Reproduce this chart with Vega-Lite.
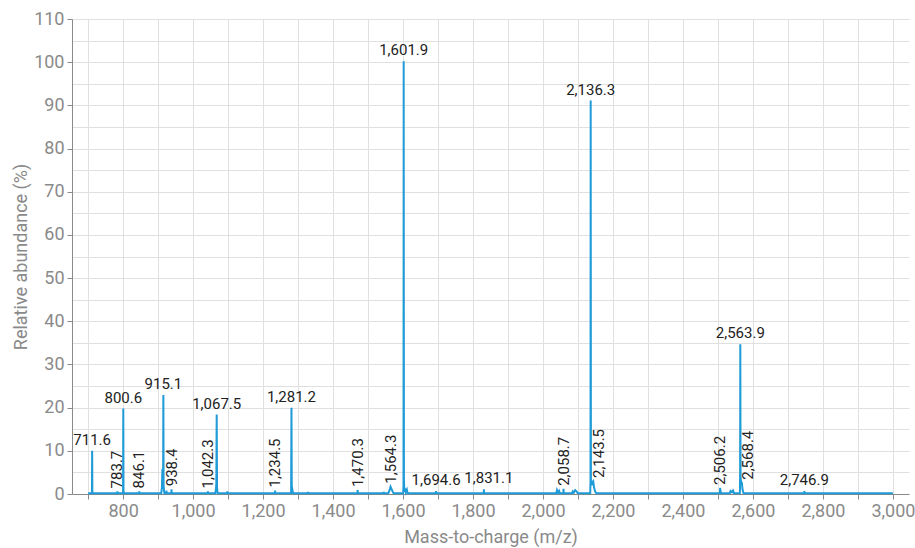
{
  "$schema": "https://vega.github.io/schema/vega-lite/v6.json",
  "width": 837,
  "height": 475,
  "autosize": {"type": "none"},
  "padding": {"left": 72, "top": 19, "right": 6, "bottom": 54},
  "background": "white",
  "config": {
    "font": "Roboto",
    "view": {"stroke": null},
    "axis": {
      "domainColor": "#8a8a8a",
      "tickColor": "#8a8a8a",
      "gridColor": "#e0e0e0",
      "labelColor": "#8a8a8a",
      "titleColor": "#8a8a8a",
      "labelFontSize": 18,
      "titleFontSize": 18,
      "titleFontWeight": "normal",
      "tickSize": 5,
      "labelPadding": 3,
      "labelOverlap": false,
      "labelFlush": false
    }
  },
  "datasets": {
    "spectrum": [
      {"mz": 700, "intensity": 0.2},
      {"mz": 711.0, "intensity": 0.2},
      {"mz": 711.6, "intensity": 10.0},
      {"mz": 712.2, "intensity": 0.2},
      {"mz": 783.2, "intensity": 0.2},
      {"mz": 783.7, "intensity": 0.6},
      {"mz": 784.2, "intensity": 0.2},
      {"mz": 799.6, "intensity": 0.2},
      {"mz": 800.0, "intensity": 1.0},
      {"mz": 800.6, "intensity": 19.8},
      {"mz": 801.2, "intensity": 0.8},
      {"mz": 802.0, "intensity": 0.2},
      {"mz": 845.6, "intensity": 0.2},
      {"mz": 846.1, "intensity": 0.6},
      {"mz": 846.6, "intensity": 0.2},
      {"mz": 909.0, "intensity": 0.2},
      {"mz": 911.0, "intensity": 1.5},
      {"mz": 912.4, "intensity": 5.8},
      {"mz": 913.5, "intensity": 3.0},
      {"mz": 914.5, "intensity": 4.0},
      {"mz": 915.1, "intensity": 22.9},
      {"mz": 915.8, "intensity": 2.0},
      {"mz": 917.0, "intensity": 0.8},
      {"mz": 918.0, "intensity": 0.2},
      {"mz": 923.5, "intensity": 0.2},
      {"mz": 924.0, "intensity": 0.8},
      {"mz": 924.5, "intensity": 0.2},
      {"mz": 937.9, "intensity": 0.2},
      {"mz": 938.4, "intensity": 1.1},
      {"mz": 938.9, "intensity": 0.2},
      {"mz": 1041.8, "intensity": 0.2},
      {"mz": 1042.3, "intensity": 0.6},
      {"mz": 1042.8, "intensity": 0.2},
      {"mz": 1063.0, "intensity": 0.2},
      {"mz": 1065.0, "intensity": 0.8},
      {"mz": 1066.5, "intensity": 2.5},
      {"mz": 1067.5, "intensity": 18.4},
      {"mz": 1068.5, "intensity": 1.5},
      {"mz": 1070.0, "intensity": 0.2},
      {"mz": 1097.5, "intensity": 0.2},
      {"mz": 1098.0, "intensity": 0.6},
      {"mz": 1098.5, "intensity": 0.2},
      {"mz": 1234.0, "intensity": 0.2},
      {"mz": 1234.5, "intensity": 0.8},
      {"mz": 1235.0, "intensity": 0.2},
      {"mz": 1280.2, "intensity": 0.2},
      {"mz": 1281.2, "intensity": 20.0},
      {"mz": 1282.0, "intensity": 2.0},
      {"mz": 1284.0, "intensity": 0.8},
      {"mz": 1286.0, "intensity": 0.2},
      {"mz": 1327.5, "intensity": 0.2},
      {"mz": 1328.0, "intensity": 0.5},
      {"mz": 1328.5, "intensity": 0.2},
      {"mz": 1469.8, "intensity": 0.2},
      {"mz": 1470.3, "intensity": 0.9},
      {"mz": 1470.8, "intensity": 0.2},
      {"mz": 1544.5, "intensity": 0.2},
      {"mz": 1545.0, "intensity": 0.5},
      {"mz": 1545.5, "intensity": 0.2},
      {"mz": 1558.0, "intensity": 0.2},
      {"mz": 1562.0, "intensity": 1.0},
      {"mz": 1564.3, "intensity": 1.7},
      {"mz": 1567.0, "intensity": 1.2},
      {"mz": 1570.0, "intensity": 0.6},
      {"mz": 1573.0, "intensity": 0.2},
      {"mz": 1600.5, "intensity": 0.2},
      {"mz": 1601.4, "intensity": 2.0},
      {"mz": 1601.9, "intensity": 100.2},
      {"mz": 1602.6, "intensity": 3.0},
      {"mz": 1604.0, "intensity": 0.5},
      {"mz": 1606.0, "intensity": 1.3},
      {"mz": 1608.0, "intensity": 0.4},
      {"mz": 1611.0, "intensity": 1.0},
      {"mz": 1613.0, "intensity": 0.2},
      {"mz": 1694.1, "intensity": 0.2},
      {"mz": 1694.6, "intensity": 0.7},
      {"mz": 1695.1, "intensity": 0.2},
      {"mz": 1830.6, "intensity": 0.2},
      {"mz": 1831.1, "intensity": 1.1},
      {"mz": 1831.6, "intensity": 0.2},
      {"mz": 2038.0, "intensity": 0.2},
      {"mz": 2040.0, "intensity": 0.9},
      {"mz": 2043.0, "intensity": 0.3},
      {"mz": 2046.0, "intensity": 0.7},
      {"mz": 2048.0, "intensity": 0.2},
      {"mz": 2058.2, "intensity": 0.2},
      {"mz": 2058.7, "intensity": 1.2},
      {"mz": 2059.2, "intensity": 0.2},
      {"mz": 2083.0, "intensity": 0.2},
      {"mz": 2085.0, "intensity": 0.6},
      {"mz": 2088.0, "intensity": 0.3},
      {"mz": 2092.0, "intensity": 0.9},
      {"mz": 2097.0, "intensity": 0.5},
      {"mz": 2099.0, "intensity": 0.2},
      {"mz": 2135.0, "intensity": 0.2},
      {"mz": 2135.8, "intensity": 3.0},
      {"mz": 2136.3, "intensity": 91.1},
      {"mz": 2137.0, "intensity": 3.0},
      {"mz": 2139.0, "intensity": 2.0},
      {"mz": 2141.0, "intensity": 2.8},
      {"mz": 2143.5, "intensity": 3.0},
      {"mz": 2146.0, "intensity": 1.5},
      {"mz": 2149.0, "intensity": 0.6},
      {"mz": 2152.0, "intensity": 0.2},
      {"mz": 2505.7, "intensity": 0.2},
      {"mz": 2506.2, "intensity": 1.4},
      {"mz": 2507.5, "intensity": 0.6},
      {"mz": 2509.0, "intensity": 0.2},
      {"mz": 2534.0, "intensity": 0.2},
      {"mz": 2536.0, "intensity": 0.7},
      {"mz": 2540.0, "intensity": 0.4},
      {"mz": 2543.0, "intensity": 0.8},
      {"mz": 2546.0, "intensity": 0.2},
      {"mz": 2562.8, "intensity": 0.2},
      {"mz": 2563.4, "intensity": 5.0},
      {"mz": 2563.9, "intensity": 34.7},
      {"mz": 2564.6, "intensity": 4.0},
      {"mz": 2566.0, "intensity": 2.8},
      {"mz": 2568.4, "intensity": 2.6},
      {"mz": 2570.0, "intensity": 1.2},
      {"mz": 2573.0, "intensity": 0.2},
      {"mz": 2746.4, "intensity": 0.2},
      {"mz": 2746.9, "intensity": 0.7},
      {"mz": 2747.4, "intensity": 0.2},
      {"mz": 3000, "intensity": 0.2}
    ],
    "peaks": [
      {"mz": 711.6, "intensity": 10.0, "orient": "h"},
      {"mz": 783.7, "intensity": 0.6, "orient": "v"},
      {"mz": 800.6, "intensity": 19.8, "orient": "h"},
      {"mz": 846.1, "intensity": 0.6, "orient": "v"},
      {"mz": 915.1, "intensity": 22.9, "orient": "h"},
      {"mz": 938.4, "intensity": 1.1, "orient": "v"},
      {"mz": 1042.3, "intensity": 0.6, "orient": "v"},
      {"mz": 1067.5, "intensity": 18.4, "orient": "h"},
      {"mz": 1234.5, "intensity": 0.8, "orient": "v"},
      {"mz": 1281.2, "intensity": 20.0, "orient": "h"},
      {"mz": 1470.3, "intensity": 0.9, "orient": "v"},
      {"mz": 1564.3, "intensity": 1.7, "orient": "v"},
      {"mz": 1601.9, "intensity": 100.2, "orient": "h"},
      {"mz": 1694.6, "intensity": 0.7, "orient": "h"},
      {"mz": 1831.1, "intensity": 1.1, "orient": "h"},
      {"mz": 2058.7, "intensity": 1.2, "orient": "v"},
      {"mz": 2136.3, "intensity": 91.1, "orient": "h"},
      {"mz": 2143.5, "intensity": 3.0, "orient": "v"},
      {"mz": 2506.2, "intensity": 1.4, "orient": "v"},
      {"mz": 2563.9, "intensity": 34.7, "orient": "h"},
      {"mz": 2568.4, "intensity": 2.6, "orient": "v"},
      {"mz": 2746.9, "intensity": 0.7, "orient": "h"}
    ]
  },
  "layer": [
    {
      "data": {"name": "spectrum"},
      "mark": {"type": "line", "color": "#1f9bd8", "strokeWidth": 2},
      "encoding": {
        "x": {
          "field": "mz",
          "type": "quantitative",
          "scale": {"domain": [654, 3046], "nice": false, "zero": false},
          "axis": {
            "title": "Mass-to-charge (m/z)",
            "values": [700, 800, 900, 1000, 1100, 1200, 1300, 1400, 1500, 1600, 1700, 1800, 1900, 2000, 2100, 2200, 2300, 2400, 2500, 2600, 2700, 2800, 2900, 3000],
            "tickCount": 100,
            "format": ",d",
            "labelExpr": "datum.value % 200 === 0 ? format(datum.value, ',d') : ''",
            "grid": true,
            "titlePadding": 8
          }
        },
        "y": {
          "field": "intensity",
          "type": "quantitative",
          "scale": {"domain": [0, 110], "nice": false},
          "axis": {
            "title": "Relative abundance (%)",
            "values": [0, 5, 10, 15, 20, 25, 30, 35, 40, 45, 50, 55, 60, 65, 70, 75, 80, 85, 90, 95, 100, 105, 110],
            "tickCount": 100,
            "labelExpr": "datum.value % 10 === 0 ? format(datum.value, 'd') : ''",
            "tickOpacity": {"condition": {"test": "datum.value % 10 === 0", "value": 1}, "value": 0},
            "grid": true,
            "titlePadding": 3
          }
        }
      }
    },
    {
      "data": {"name": "peaks"},
      "transform": [{"filter": "datum.orient === 'h' && datum.mz !== 1831.1"}],
      "mark": {"type": "text", "baseline": "alphabetic", "align": "center", "dy": -6, "fontSize": 15, "color": "#222222"},
      "encoding": {
        "x": {"field": "mz", "type": "quantitative"},
        "y": {"field": "intensity", "type": "quantitative"},
        "text": {"field": "mz", "type": "quantitative", "format": ",.1f"}
      }
    },
    {
      "data": {"name": "peaks"},
      "transform": [{"filter": "datum.mz === 1831.1"}],
      "mark": {"type": "text", "baseline": "alphabetic", "align": "center", "dy": -6, "dx": 5, "fontSize": 15, "color": "#222222"},
      "encoding": {
        "x": {"field": "mz", "type": "quantitative"},
        "y": {"field": "intensity", "type": "quantitative"},
        "text": {"field": "mz", "type": "quantitative", "format": ",.1f"}
      }
    },
    {
      "data": {"name": "peaks"},
      "transform": [{"filter": "datum.orient === 'v' && datum.mz !== 2143.5 && datum.mz !== 2568.4"}],
      "mark": {"type": "text", "baseline": "middle", "align": "left", "angle": 270, "dx": 3, "fontSize": 15, "color": "#222222"},
      "encoding": {
        "x": {"field": "mz", "type": "quantitative"},
        "y": {"field": "intensity", "type": "quantitative"},
        "text": {"field": "mz", "type": "quantitative", "format": ",.1f"}
      }
    },
    {
      "data": {"name": "peaks"},
      "transform": [{"filter": "datum.mz === 2143.5 || datum.mz === 2568.4"}],
      "mark": {"type": "text", "baseline": "middle", "align": "left", "angle": 270, "dx": 3, "dy": 6, "fontSize": 15, "color": "#222222"},
      "encoding": {
        "x": {"field": "mz", "type": "quantitative"},
        "y": {"field": "intensity", "type": "quantitative"},
        "text": {"field": "mz", "type": "quantitative", "format": ",.1f"}
      }
    },
    {
      "mark": {"type": "rect", "color": "#f6f6f6", "opacity": 0.95},
      "encoding": {
        "x": {"datum": 2778},
        "x2": {"datum": 3050},
        "y": {"datum": 110.5},
        "y2": {"datum": 105.2}
      }
    },
    {
      "mark": {"type": "text", "align": "right", "baseline": "alphabetic", "dx": -2, "dy": 15, "fontSize": 15, "color": "#222222", "text": "Max: 344027"},
      "encoding": {
        "x": {"datum": 3046},
        "y": {"datum": 110}
      }
    }
  ]
}
